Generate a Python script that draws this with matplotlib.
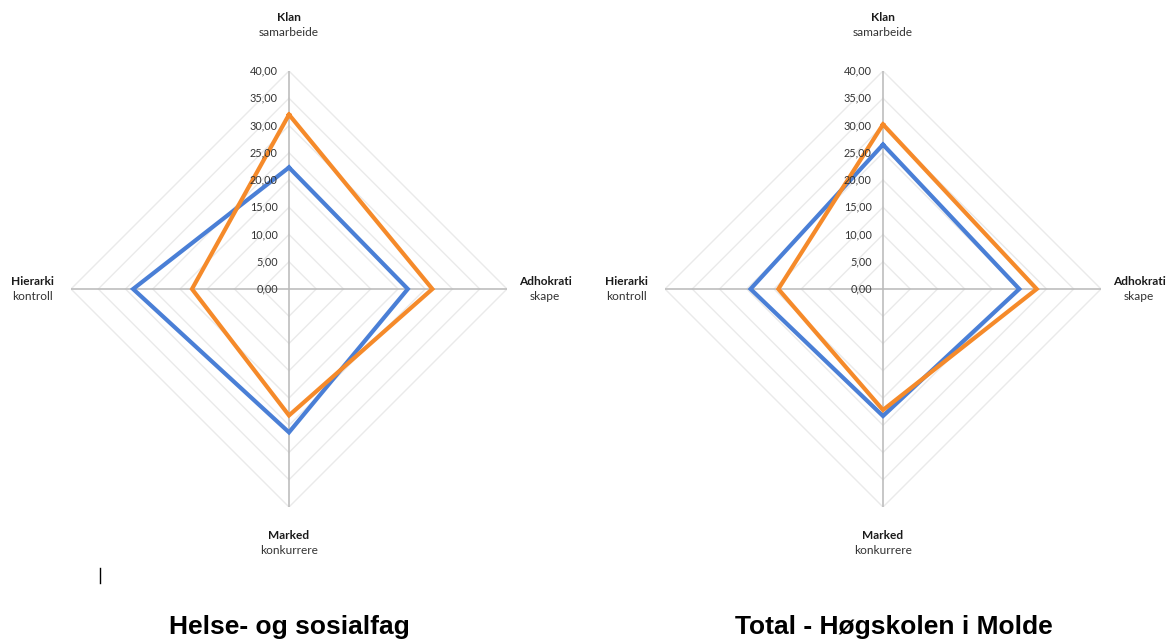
import numpy as np
import matplotlib.pyplot as plt

# categories clockwise from the top
categories = ["Klan", "Adhokrati", "Marked", "Hierarki"]
subtitles = ["samarbeide", "skape", "konkurrere", "kontroll"]

# left panel: Helse- og sosialfag
helse_blue = [22.3, 21.8, 26.3, 28.6]
helse_orange = [32.0, 26.3, 23.2, 17.8]

# right panel: whole college
total_blue = [26.5, 25.0, 23.3, 24.3]
total_orange = [30.2, 28.2, 22.2, 19.2]

panel_titles = ["Helse- og sosialfag", "Total - Høgskolen i Molde"]
ticks = [0, 5, 10, 15, 20, 25, 30, 35, 40]
tick_labels = ["0,00", "5,00", "10,00", "15,00", "20,00", "25,00", "30,00", "35,00", "40,00"]

BLUE = "#4A7FD6"
ORANGE = "#F58A2A"
TXT = "#333333"
W, H = 1168, 641

plt.rcParams["font.family"] = ["Lato", "DejaVu Sans"]

fig = plt.figure(figsize=(W / 100, H / 100), dpi=100)

theta = np.deg2rad([0, 90, 180, 270])
label_r = [48.4, 47.0, 46.6, 47.0]


def radar(cx, cy, rad, blue, orange, title, title_x):
    ax = fig.add_axes([(cx - rad) / W, (H - cy - rad) / H, 2 * rad / W, 2 * rad / H],
                      projection="polar")
    ax.set_theta_zero_location("N")
    ax.set_theta_direction(-1)
    ax.set_ylim(0, 40)
    ax.grid(False)
    ax.spines["polar"].set_visible(False)
    ax.set_xticks([])
    ax.set_yticks([])

    closed = np.append(theta, theta[0])
    # diamond grid rings
    for t in ticks[1:]:
        ax.plot(closed, [t] * 5, color="#EAEAEA", lw=1.0, zorder=1)
    # spokes
    for th in theta:
        ax.plot([th, th], [0, 40], color="#BDBDBD", lw=1.2, zorder=2)

    for vals, col in [(blue, BLUE), (orange, ORANGE)]:
        ax.plot(closed, vals + vals[:1], color=col, lw=3.0, zorder=4,
                solid_joinstyle="miter")

    for t, lab in zip(ticks, tick_labels):
        ax.annotate(lab, xy=(0, t), xytext=(-8, 0), textcoords="offset points",
                    ha="right", va="center", fontsize=7.8, color=TXT, zorder=5)

    for th, r, name, sub in zip(theta, label_r, categories, subtitles):
        ax.annotate(name, xy=(th, r), xytext=(0, 5.4), textcoords="offset points",
                    ha="center", va="center", fontsize=8.6, fontweight="bold",
                    color="#1A1A1A", annotation_clip=False)
        ax.annotate(sub, xy=(th, r), xytext=(0, -5.4), textcoords="offset points",
                    ha="center", va="center", fontsize=8.6, color=TXT,
                    annotation_clip=False)

    fig.text(title_x / W, 1 - 627 / H, title, ha="center", va="center",
             fontsize=19, fontweight="bold", family="Liberation Sans", color="black")


radar(289, 289, 218, helse_blue, helse_orange, panel_titles[0], 289)
radar(883, 289, 218, total_blue, total_orange, panel_titles[1], 894)

# text cursor mark left of the first title
fig.add_artist(plt.Line2D([100 / W, 100 / W], [1 - 568 / H, 1 - 583 / H],
                          color="black", lw=1.0))

fig.savefig("out.png", dpi=100, facecolor="white")
